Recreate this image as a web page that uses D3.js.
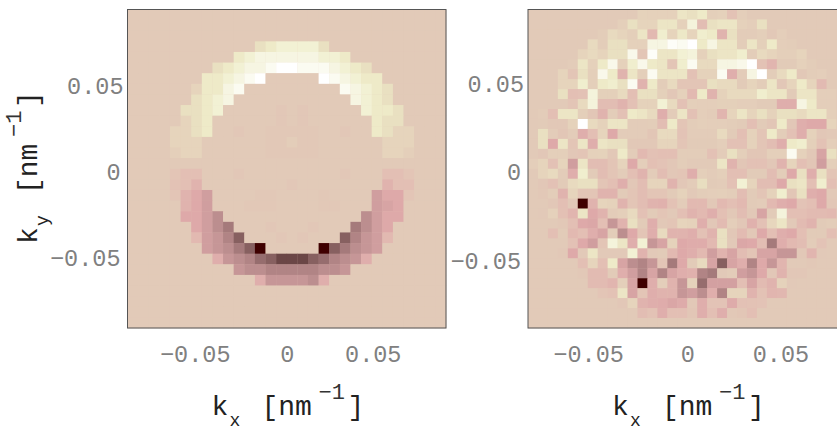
<!DOCTYPE html>
<html>
<head>
<meta charset="utf-8">
<script src="https://cdn.jsdelivr.net/npm/d3@7"></script>
<style>
body { margin: 0; background: #fff; overflow: hidden; }
text { font-family: "Liberation Mono", monospace; }
</style>
</head>
<body>
<div id="chart"></div>
<script>
// tick labels
const tick_values = [-0.05, 0, 0.05];
const tick_labels = ["\u22120.05", "0", "0.05"];

// left panel, 30 x 30 bins, top row first
const grid_left = [
[0,0,0,0,0,0,0,0,0,0,0,0,0,0,0,0,0,0,0,0,0,0,0,0,0,0,0,0,0,0],
[0,0,0,0,0,0,0,0,0,0,0,0,0,0,0,0,0,0,0,0,0,0,0,0,0,0,0,0,0,0],
[0,0,0,0,0,0,0,0,0,0,0,0,0,0,0,0,0,0,0,0,0,0,0,0,0,0,0,0,0,0],
[0,0,0,0,0,0,0,0,0,0,0,0,2,3,4,4,4,4,2,0,0,0,0,0,0,0,0,0,0,0],
[0,0,0,0,0,0,0,0,0,0,3,4,5,5,5,5,5,5,4,4,3,0,0,0,0,0,0,0,0,0],
[0,0,0,0,0,0,0,0,2,3,4,5,5,6,7,7,6,6,6,5,4,3,2,0,0,0,0,0,0,0],
[0,0,0,0,0,0,0,3,3,4,5,6,7,0,0,0,0,0,7,6,5,4,3,3,0,0,0,0,0,0],
[0,0,0,0,0,0,1,3,3,5,6,0,0,0,0,0,0,0,0,0,6,5,4,3,2,0,0,0,0,0],
[0,0,0,0,0,0,2,3,4,5,0,0,0,0,0,0,0,0,0,0,0,5,4,3,2,0,0,0,0,0],
[0,0,0,0,0,2,2,3,4,0,0,0,0,0,-0.3,0,-0.3,0,0,0,0,0,4,3,3,2,0,0,0,0],
[0,0,0,0,0,1,2,3,0,0,0,0,0,0,-0.3,0,-0.3,0,0,0,0,0,0,3,2,2,0,0,0,0],
[0,0,0,0,1,1,2,3,0,0,-0.3,0,0,-0.2,-0.2,-0.2,-0.2,-0.2,0,0,-0.3,0,0,3,2,1,1,0,0,0],
[0,0,0,0,1,1,1,0,0,0,0,0,0,-0.2,-0.2,0.3,-0.2,-0.2,0,0,0,0,0,0,1,1,1,0,0,0],
[0,0,0,0,0.5,1,1,0,0,0,0,0,0,-0.2,-0.2,-0.2,-0.2,-0.2,0,0,0,0,0,0,1,1,0.5,0,0,0],
[0,0,0,0,0,0,0,0,0,0,0,0,0,0,0,0,0,0,0,0,0,0,0,0,0,0,0,0,0,0],
[0,0,0,0,-0.5,-1,-1,0,0,0,-0.3,0,0,0,0,0,0,0,0,0,-0.3,0,0,0,-1,-1,-0.5,0,0,0],
[0,0,0,0,-0.7,-1,-2,0,0,0,0,0,0,0,0,-0.3,0,0,0,0,0,0,0,0,-2,-1,-1,0,0,0],
[0,0,0,0,-0.5,-2,-3,-4,0,0,0,0,-0.2,-0.2,0,0,0,0,-0.2,0,0,0,0,-4,-3,-3,-0.5,0,0,0],
[0,0,0,0,0,-2,-3,-4,0,0,0,-0.2,-0.2,-0.2,0,0,0,0,-0.2,-0.2,0,0,0,-4,-3.5,-3,0,0,0,0],
[0,0,0,0,0,-3,-3,-4,-5,0,0,0,0,0,0,0,0,0,0,0,0,0,-5,-4,-3,-3,0,0,0,0],
[0,0,0,0,0,0,-3,-4,-5,-6,0,0,0,-0.3,0,0,0,-0.3,0,0,0,-6,-5,-4,-3,0,0,0,0,0],
[0,0,0,0,0,0,-1.5,-4,-4.5,-5.5,-7,0,0,0,-0.3,0,-0.3,0,0,0,-7,-5.5,-4.5,-4,-1.5,0,0,0,0,0],
[0,0,0,0,0,0,0,-4,-4.5,-5,-6,-7,-10,0,0,0,0,0,-10,-7,-6,-5,-4.5,-4,0,0,0,0,0,0],
[0,0,0,0,0,0,0,0,-2.5,-4.5,-5,-5.5,-6.5,-7,-8,-8,-8,-7,-6.5,-5.5,-5,-4.5,-2.5,0,0,0,0,0,0,0],
[0,0,0,0,0,0,0,0,0,0,-4.5,-5,-5,-5.5,-5.5,-5.5,-5.5,-5.5,-5,-5,-4.5,0,0,0,0,0,0,0,0,0],
[0,0,0,0,0,0,0,0,0,0,0,0,-2.5,-4.5,-4.5,-4.5,-4.5,-5,-2.5,0,0,0,0,0,0,0,0,0,0,0],
[0,0,0,0,0,0,0,0,0,0,0,0,0,0,0,0,0,0,0,0,0,0,0,0,0,0,0,0,0,0],
[0,0,0,0,0,0,0,0,0,0,0,0,0,0,0,0,0,0,0,0,0,0,0,0,0,0,0,0,0,0],
[0,0,0,0,0,0,0,0,0,0,0,0,0,0,0,0,0,0,0,0,0,0,0,0,0,0,0,0,0,0],
[0,0,0,0,0,0,0,0,0,0,0,0,0,0,0,0,0,0,0,0,0,0,0,0,0,0,0,0,0,0]
];

// right panel, 32 x 32 bins, last column falls outside the window
const grid_right = [
[0,0,0,0,0,0,0,0,0,0,0,.8,.7,.7,.7,2.5,2,3,.5,.7,-.7,.4,0,0,0,0,0,0,0,0,0,0],
[0,0,0,0,0,0,0,0,0,.5,2,1,1,2.5,2.5,.7,4.5,-1.2,2,2.5,2.5,.7,.4,2,0,0,0,0,0,0,0,0],
[0,0,0,0,0,0,0,.3,1.5,1,.5,2.5,-1.5,3.5,1,2.8,1,3.5,3,-2,2,.2,.2,.5,-.2,.4,0,0,0,0,0,0],
[0,0,0,0,0,0,1.5,.3,2,2,.7,.7,5,5,6.5,6,7,3,5,2.5,2.5,.3,2.5,.6,3,.4,.3,0,0,0,0,0],
[0,0,0,0,0,1,1.5,1,2,2,5.5,-.5,6.5,2.5,2.5,4,4.5,.7,2,2.5,2.5,3.5,.3,1.5,1,.5,.5,1,0,0,0,0],
[0,0,0,0,.2,2.5,.7,3,5.5,.7,3.5,5.5,3,2.5,-.5,3.5,6,1.5,1.5,5,5,5.5,7,-.7,-1.8,.1,.1,.7,.3,0,0,0],
[0,0,0,1,-.5,2,.5,5.5,3,-2,2.5,.5,6,2.5,2.5,2.5,-.8,.8,.8,6,-2.5,.2,5,7,.3,1.5,3,-.2,.3,.4,0,0],
[0,0,0,1,1,3.5,.5,3,3.5,2,6,-2,3,.3,1.5,-.5,-.5,-.5,2,1.5,1.5,.1,1,.3,2.5,-.3,1,3,1,-1.4,0,0],
[0,0,0,2,-1,-.8,4.5,.6,.6,1.5,-1,2,2,.6,-.3,.7,-1.5,3,-2,.8,1.5,1.5,1.5,3.5,2.5,2.5,.1,2.5,2.5,.4,.4,0],
[0,0,0,0,-.5,1.5,4.5,-1.2,-1.2,-2,-.8,.8,.8,4,1.5,-.8,.5,.4,.4,.6,.6,.4,.4,.1,.1,-2.5,-2.5,5,3,.4,.4,0],
[0,.2,-1,2.5,2.5,.5,-.4,-2,.3,-.8,3,2.5,1.5,-2.5,.2,2.5,-.8,.4,.2,-1.8,1,2.5,1,2,.8,2,2,1.5,2.5,2.5,.5,0],
[0,.1,-.2,-.2,.8,7,1.5,.8,2.5,2.5,.2,.2,.3,-1.2,3,-.5,.3,.5,.4,.4,.3,.1,-1,.1,-.4,3,-.3,-2.5,-3,-3,1,0],
[0,2,.2,-.4,.2,-2.5,-1,1,-3,.2,.2,.2,-.4,1.5,1.5,-.6,.2,.2,.2,1.5,.1,-1,.8,-.5,3,.3,-.8,-2.5,.8,-.3,-.1,0],
[0,2,-3,2.5,-.5,2.5,-2.5,2.5,2,2,-.2,-.2,-.2,1,1,-.5,.1,.1,.1,.4,-.8,-.8,.8,-.5,-1.2,-2.5,3,3.5,.6,-.7,.4,0],
[0,-.3,.5,.5,-.3,-.5,.7,.8,-.2,3,.2,-1.5,-.8,-1,-1,.3,.3,.3,-.8,.2,2,.5,-.4,-.4,.5,.5,6,.7,-.2,-3.5,2,0],
[.4,1,-.8,1,-4,2.5,-1.2,-1.2,-.5,1,-3,.4,-.9,-.6,-.3,.3,0,0,0,2.5,-2,-.4,-.8,-.8,-.3,-2,1,-1,-.4,-4,.5,0],
[0,1,1.5,.2,-2.5,3.5,.1,-1.2,-.5,.2,-1,-2,.2,-1.2,-.3,-.5,-2.5,.5,.2,.5,-1,-1,.1,.1,-1.2,.3,-3,2,-2.5,2,-.5,0],
[0,-.3,-.8,.1,1.5,2,2,-.5,-1,-2.5,-.3,-1.2,1,1,-2,-.3,.2,1.8,.1,.2,-.8,4,1,-1.2,-1.2,-3,2,2.5,-1,3.5,-1,0],
[0,-.2,.3,-2,1,-.5,-.5,-2,-2,.1,-.5,-1.2,-.5,-.5,.1,.8,-.1,.3,.4,.5,.3,-1.2,.1,-.5,.8,3.5,-.4,2,-2.5,-3,-.1,0],
[0,0,-.3,-1,-.1,-10,-2,1,.8,-2,-.5,-1.2,-2,-2.2,-.7,.2,-1.5,-1.5,-.2,-1.5,-1,-1.5,.1,.2,-1.5,-2.5,-3,-.6,-1,-3,-.3,0],
[0,-.1,.7,-.9,-1.8,2.5,-3,-2,.2,.5,1.5,-.8,.1,-.5,-.1,-1,-2,-1.5,-2.5,-.9,-.2,-1.2,-.2,-3.5,.1,4.5,-1,-1,-1.3,-1.3,-1.5,0],
[0,0,0,-.2,-1,-3,-3.2,-1,-4.5,-2,2,.1,-2.5,-.2,-.5,1,.8,-2.5,-.3,-1.3,.4,-.3,-2.2,-.8,1.2,2.5,-.1,-1.3,-2,.1,.3,0],
[0,0,-1,.1,-1.5,-1,-2.5,-3.5,.3,-5,-3,-.5,-2.5,1.5,-2,-2,-2.5,-.8,-2,2,-.3,-1.3,-.2,-3,-1,-2.5,-3,-1,.1,.1,-1,0],
[0,0,0,0,-.8,-3,-4,-.5,4.5,2.5,-2.5,4,-4.5,-3.5,.8,-3,-2.7,-2.7,-1.5,2,-.1,-3.2,-3,-1.2,-6,-2.5,-1.5,-1.2,.2,-.6,0,0],
[0,0,0,-.2,-3,-.1,2.5,-.1,-.1,-.1,4,-2,-.1,.1,-1.5,-3,-2.5,-1.5,-4,-2,-3.5,-1.2,-.5,-3.5,-3.5,-4.5,-4.5,-.2,-1.8,-.1,0,0],
[0,0,0,0,0,-1,1,-1,3,-3.5,-5,-5.5,-4.5,-.5,-6,-3,.1,1.5,-3.5,-7,-3.5,-2.5,-5.5,-3,-4.5,-1.8,0,0,-.2,0,0,0],
[0,0,0,0,0,-.2,-1.3,-1.3,.1,-2.5,-4,-5.5,-3.5,-5.5,-3.5,-2.5,-2.2,-5.5,-6,-.1,.2,-4,-4.5,-3,-.3,-2,-.3,-.3,0,0,0,0],
[0,0,0,0,0,0,-1.3,-1.3,-1.8,.5,-3.5,-10,-2.5,.4,-2,-4.5,.8,-6.5,-3.8,-3.8,-3.8,-1,-3.5,-1.3,-2,.8,-.1,0,0,0,0,0],
[0,0,0,0,0,0,0,-.5,-.7,2.5,-3.5,-.5,-2.5,-2,-2,-4.5,-4,-5,-2.5,-5.5,1,1,-2,-.7,-1.8,-1.7,0,0,0,0,0,0],
[0,0,0,0,0,0,0,0,0,-.3,1,-2,-2.5,-2.7,-3.3,-2.8,-.2,-2.5,-.6,-.6,-2.8,-.8,-.7,-.6,0,0,0,0,0,0,0,0],
[0,0,0,0,0,0,0,0,0,0,0,-1.2,-.7,-2.5,-1,-1,-.4,-2.5,-1,-2.5,-.2,-.4,-1,0,0,0,0,0,0,0,0,0],
[0,0,0,0,0,0,0,0,0,0,0,0,0,0,0,0,0,0,0,0,0,0,0,0,0,0,0,0,0,0,0,0]
];

// colour levels
const color_levels = [-10,-9,-8,-7,-6,-5,-4,-3,-2,-1,0,1,2,3,4,5,6,7];
const color_values = ["#3f0000","#503030","#6b4646","#876060","#a57a7b","#bc8e8f","#d09e9f","#dea9a9","#e0b3ae","#e3bfb4","#e2cab8","#e6d4bc","#e9e0c1","#eeeac8","#f2f1d4","#f6f5e2","#fbfbf1","#ffffff"];

const color = d3.scaleLinear().domain(color_levels).range(color_values);

const width = 837, height = 431;
const svg = d3.select("#chart").append("svg")
    .attr("width", width)
    .attr("height", height);

function panel(grid, left, xlim, ylim, sub_y){
    const top = 9.5, size = 318.5;
    const x = d3.scaleLinear().domain([-xlim, xlim]).range([left, left + size]);
    const y = d3.scaleLinear().domain([-ylim, ylim]).range([top + size, top]);
    const bins = d3.scaleBand().domain(d3.range(grid.length)).range([0, size]);

    const g = svg.append("g");

    g.append("rect")
        .attr("x", left).attr("y", top)
        .attr("width", size).attr("height", size)
        .attr("fill", color(0));

    g.selectAll(".row").data(grid).join("g")
        .attr("transform", (d, i) => "translate(" + left + "," + (top + bins(i)) + ")")
        .selectAll("rect").data(d => d).join("rect")
        .attr("x", (d, i) => bins(i))
        .attr("width", bins.bandwidth() + 0.3)
        .attr("height", bins.bandwidth() + 0.3)
        .attr("fill", d => color(d));

    g.append("rect")
        .attr("x", left).attr("y", top)
        .attr("width", size).attr("height", size)
        .attr("fill", "none")
        .attr("stroke", "#555")
        .attr("stroke-width", 1);

    const xaxis = d3.axisBottom(x).tickValues(tick_values).tickSize(0)
        .tickFormat((d, i) => tick_labels[i]);
    const yaxis = d3.axisLeft(y).tickValues(tick_values).tickSize(0)
        .tickFormat((d, i) => tick_labels[i]);

    g.append("g").attr("transform", "translate(0," + (top + size) + ")").call(xaxis)
        .call(a => a.select(".domain").remove())
        .selectAll("text").attr("y", 17).attr("dy", "0.71em")
        .attr("dx", d => d < 0 ? -6 : 0)
        .style("font-size", "23.5px").style("font-family", "Liberation Mono").attr("fill", "#808080");
    g.append("g").attr("transform", "translate(" + left + ",0)").call(yaxis)
        .call(a => a.select(".domain").remove())
        .selectAll("text").attr("x", d => d > 0 ? -4 : -7).attr("dy", "0.46em")
        .style("font-size", "23.5px").style("font-family", "Liberation Mono").attr("fill", "#808080");

    // x label, pieces placed by hand like the subscript and superscript in the original
    label(g.append("g").attr("transform", "translate(" + (left + 84) + ",415)"), "x");

    if(sub_y){
        label(g.append("g").attr("transform", "translate(37,244) rotate(-90)"), "y");
    }
}

function label(g, sub){
    g.append("text").attr("x", 0).attr("y", 0).style("font-size", "28px").attr("fill", "#222").text("k");
    g.append("text").attr("x", 18).attr("y", 11).style("font-size", "18px").attr("fill", "#222").text(sub);
    g.append("text").attr("x", 50).attr("y", 0).style("font-size", "28px").attr("fill", "#222").text("[nm");
    g.append("text").attr("x", 107).attr("y", -16).style("font-size", "22px").attr("fill", "#333").text("\u22121");
    g.append("text").attr("x", 136).attr("y", 0).style("font-size", "28px").attr("fill", "#222").text("]");
}

panel(grid_left, 127.5, 0.0926, 0.0926, true);
panel(grid_right, 528, 0.0855, 0.09, false);
</script>
</body>
</html>
